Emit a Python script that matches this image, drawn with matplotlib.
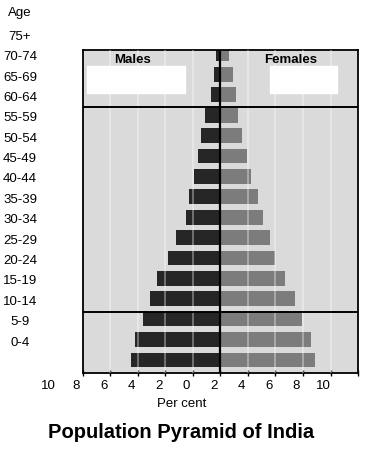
import matplotlib
matplotlib.use("Agg")
import matplotlib.pyplot as plt
import matplotlib.transforms as mtransforms
import numpy as np

plt.rcParams['font.family'] = ['Liberation Sans', 'DejaVu Sans']

# Age groups from youngest to oldest
ages = ["0-4", "5-9", "10-14", "15-19", "20-24", "25-29", "30-34", "35-39",
        "40-44", "45-49", "50-54", "55-59", "60-64", "65-69", "70-74", "75+"]
males = [6.5, 6.2, 5.6, 5.1, 4.6, 3.8, 3.2, 2.5, 2.3, 1.95, 1.6, 1.4, 1.1, 0.7, 0.5, 0.3]
females = [6.9, 6.6, 5.9, 5.4, 4.7, 4.0, 3.6, 3.1, 2.7, 2.2, 1.9, 1.6, 1.3, 1.1, 0.9, 0.6]
tick_values = [-10, -8, -6, -4, -2, 0, 2, 4, 6, 8, 10]
tick_labels = ["10", "8", "6", "4", "2", "0", "2", "4", "6", "8", "10"]

fig = plt.figure(figsize=(3.69, 4.49), dpi=100)
ax = fig.add_axes([0.2249, 0.1693, 0.7453, 0.7194])
ax.set_facecolor('#dadada')

y = np.arange(len(ages))
ax.barh(y, [-m for m in males], height=0.72, color='#262626', zorder=2)
ax.barh(y, females, height=0.72, color='#7c7c7c', zorder=2)

# faint vertical grid stripes
for t in tick_values[1:-1]:
    ax.axvline(t, color='white', alpha=0.35, lw=1.4, zorder=3)

ax.axvline(0, color='black', lw=1.6, zorder=4)
ax.axhline(2.35, color='black', lw=1.4, zorder=4)
ax.axhline(12.4, color='black', lw=1.4, zorder=4)

ax.set_xlim(-10, 10)
ax.set_ylim(-0.64, 15.2)

# white legend patches under titles
ax.add_patch(plt.Rectangle((-9.7, 13.1), 7.1, 1.3, color='white', zorder=1))
ax.add_patch(plt.Rectangle((3.6, 13.1), 4.9, 1.3, color='white', zorder=1))
ax.text(-6.4, 14.73, "Males", fontsize=9.5, fontweight='bold', ha='center', va='center', zorder=5)
ax.text(5.1, 14.73, "Females", fontsize=9.5, fontweight='bold', ha='center', va='center', zorder=5)

for s in ax.spines.values():
    s.set_linewidth(1.3)

ax.set_yticks([])
ax.set_xticks(tick_values)
ax.set_xticklabels([])
ax.tick_params(axis='x', direction='inout', length=5, width=1)

# tick labels (shifted as in the original print)
xtrans = mtransforms.blended_transform_factory(ax.transData, ax.transAxes)
for v, lab in zip(tick_values, tick_labels):
    ax.text(v - 2.5, -0.022, lab, transform=xtrans, ha='center', va='top',
            fontsize=9.5, clip_on=False)

ytrans = mtransforms.blended_transform_factory(ax.transAxes, ax.transData)
for i, lab in enumerate(ages):
    ax.text(-0.229, i + 0.85, lab, transform=ytrans, ha='center', va='center',
            fontsize=9.5, clip_on=False)
ax.text(-0.229, 17.0, "Age", transform=ytrans, ha='center', va='center',
        fontsize=9.5, clip_on=False)

fig.text(182 / 369, 1 - 404 / 449, "Per cent", ha='center', va='center', fontsize=9.5)
fig.text(181 / 369, 1 - 433 / 449, "Population Pyramid of India", ha='center', va='center',
         fontsize=14.5, fontweight='bold')

fig.savefig("out.png", dpi=100)
